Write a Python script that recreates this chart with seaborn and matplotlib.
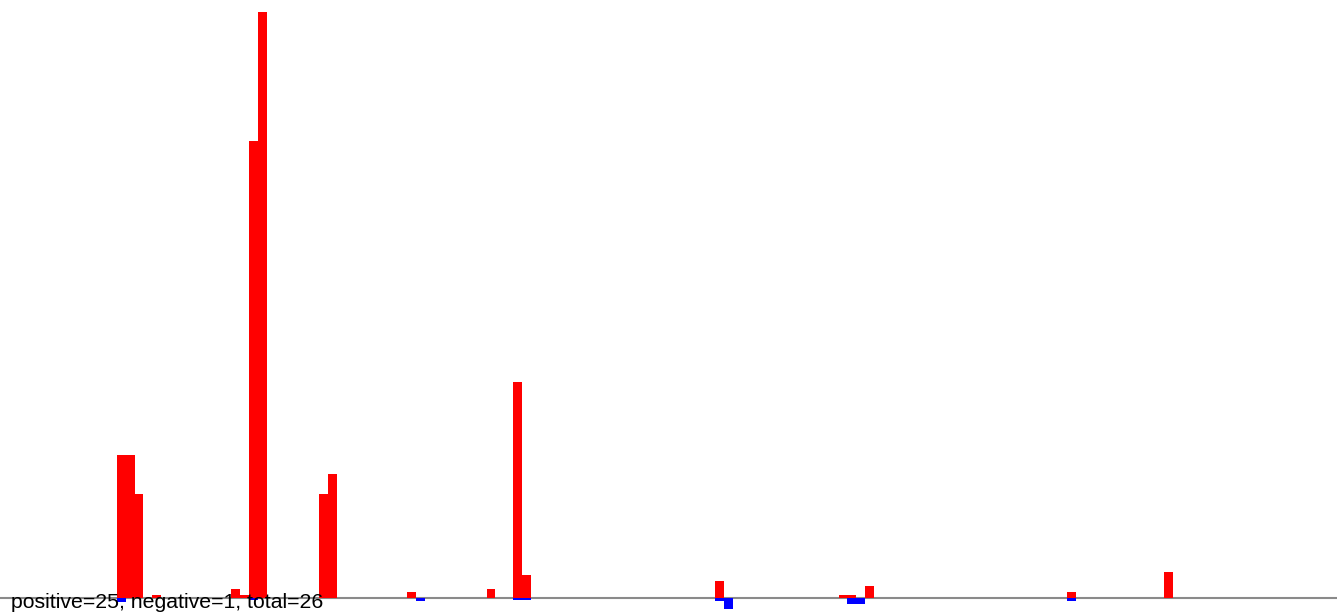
import matplotlib
matplotlib.use("Agg")
import matplotlib.pyplot as plt
import seaborn as sns
import pandas as pd

# Bin indices and values (heights)
pos_bins = [13, 14, 15, 17, 26, 27, 28, 29, 36, 37, 46, 55, 58, 59, 81, 95, 96, 98, 121, 132]
pos_vals = [142.5, 142.5, 103.5, 2.5, 8.5, 2.5, 456.5, 585.5, 103.5, 123.5, 5.5, 8.5, 215.5, 22.5, 16.5, 2.5, 2.5, 11.5, 5.5, 25.5]
neg_bins = [13, 28, 47, 58, 59, 81, 82, 96, 97, 121]
neg_vals = [-4.5, -2.5, -3.5, -2.5, -2.5, -3.0, -11.0, -6.0, -6.0, -3.0]
label_text = "positive=25, negative=1, total=26"

sns.set_theme(style="white")
plt.rcParams['font.family'] = ['Liberation Sans', 'DejaVu Sans']

fig = plt.figure(figsize=(13.37, 6.13), dpi=100)
ax = fig.add_axes([0, 0, 1, 1])

df_pos = pd.DataFrame({"bin": [b + 0.5 for b in pos_bins], "value": pos_vals})
df_neg = pd.DataFrame({"bin": [b + 0.5 for b in neg_bins], "value": neg_vals})

ax.axhline(0, color="#8a8a8a", lw=1.5, zorder=1)
sns.barplot(data=df_pos, x="bin", y="value", native_scale=True, color="#ff0000",
            saturation=1, width=1.0, linewidth=0, errorbar=None, ax=ax, zorder=2)
sns.barplot(data=df_neg, x="bin", y="value", native_scale=True, color="#0000ff",
            saturation=1, width=1.0, linewidth=0, errorbar=None, ax=ax, zorder=2)

# pixel mapping: x_px = 2.6 + k*8.8
ax.set_xlim(-2.6 / 8.8, (1337 - 2.6) / 8.8)
ax.set_ylim(-15.5, 597.5)
ax.axis("off")

fig.text(11 / 1337, (613 - 608) / 613, label_text, fontsize=15.3, color="black",
         ha="left", va="baseline", zorder=5)

fig.savefig("out.png", dpi=100)
